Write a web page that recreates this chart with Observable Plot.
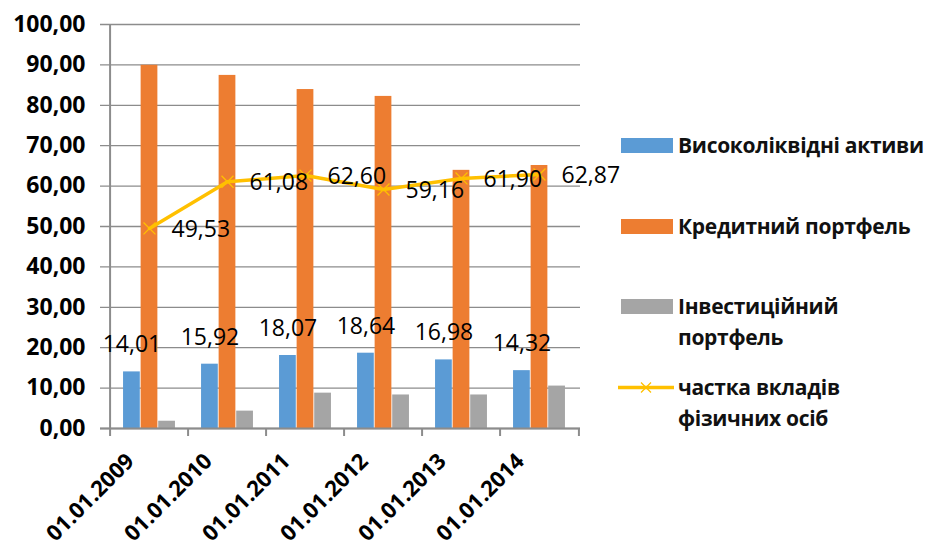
<!DOCTYPE html>
<html>
<head>
<meta charset="utf-8">
<script src="https://cdn.jsdelivr.net/npm/d3@7"></script>
<script src="https://cdn.jsdelivr.net/npm/@observablehq/plot@0.6"></script>
<style>
  html, body { margin: 0; padding: 0; background: #fff; }
  #chart { position: relative; width: 928px; height: 548px; font-family: "Open Sans", sans-serif; }
  #chart svg { position: absolute; left: 0; top: 0; }
  .legend { position: absolute; left: 0; top: 0; width: 928px; height: 548px; pointer-events: none; }
  .legend .item { position: absolute; left: 621px; display: flex; align-items: flex-start; }
  .legend .sw { width: 52px; height: 15px; flex: none; }
  .legend .label { position: absolute; left: 57px; white-space: nowrap; font-weight: 700; font-size: 21px; line-height: 31px; color: #111; letter-spacing: -0.3px; }
</style>
</head>
<body>
<div id="chart"></div>
<script>
// Dates of the balance sheet snapshots
const dates = ["01.01.2009", "01.01.2010", "01.01.2011", "01.01.2012", "01.01.2013", "01.01.2014"];
// Bar series, %
const liquidAssets = [14.01, 15.92, 18.07, 18.64, 16.98, 14.32];
const loanPortfolio = [89.9, 87.4, 83.9, 82.2, 63.9, 65.1];
const investmentPortfolio = [1.8, 4.3, 8.75, 8.3, 8.3, 10.5];
// Line series: share of household deposits, %
const householdShare = [49.53, 61.08, 62.60, 59.16, 61.90, 62.87];
// Y axis ticks
const yTicks = [0, 10, 20, 30, 40, 50, 60, 70, 80, 90, 100];

// Legend entries
const seriesNames = ["Високоліквідні активи", "Кредитний  портфель", "Інвестиційний портфель", "частка вкладів фізичних осіб"];
const colors = ["#5B9BD5", "#ED7D31", "#A5A5A5", "#FFC000"];

const fmt = v => v.toFixed(2).replace(".", ",");

const width = 928, height = 548;
const marginLeft = 107, marginRight = 348, marginTop = 24, marginBottom = 120;
const step = (width - marginLeft - marginRight) / dates.length;
const barW = step * 0.223;
const groupLeft = (step - 3 * barW) / 2;

const rows = dates.map((date, i) => ({
  date,
  liquid: liquidAssets[i],
  loan: loanPortfolio[i],
  invest: investmentPortfolio[i],
  share: householdShare[i]
}));

// Bar k of each date group occupies its own third of the group
const barInsets = k => ({
  insetLeft: groupLeft + k * barW,
  insetRight: step - groupLeft - (k + 1) * barW
});

const axisGray = "#8C8C8C";
const textFont = "Open Sans";

const plot = Plot.plot({
  width, height, marginLeft, marginRight, marginTop, marginBottom,
  x: { domain: dates, padding: 0, axis: null },
  y: { domain: [0, 100], axis: null },
  style: { fontFamily: textFont, color: "#000", background: "transparent", overflow: "visible" },
  marks: [
    // horizontal gridlines, sticking out to the left as tick marks
    Plot.ruleY(yTicks, { stroke: axisGray, strokeWidth: 1.3, insetLeft: -7 }),
    // y axis line
    Plot.ruleX([dates[0]], { dx: -step / 2, y1: 0, y2: 100, stroke: axisGray, strokeWidth: 2 }),
    // bars
    Plot.barY(rows, { x: "date", y: "liquid", fill: colors[0], ...barInsets(0) }),
    Plot.barY(rows, { x: "date", y: "loan", fill: colors[1], ...barInsets(1) }),
    Plot.barY(rows, { x: "date", y: "invest", fill: colors[2], ...barInsets(2) }),
    // x axis line and category boundary ticks
    Plot.ruleY([0], { stroke: axisGray, strokeWidth: 2.2, insetLeft: -7 }),
    Plot.ruleX(dates, { dx: -step / 2, y1: 0, y2: 0, insetBottom: -8, stroke: axisGray, strokeWidth: 2 }),
    Plot.ruleX([dates[dates.length - 1]], { dx: step / 2, y1: 0, y2: 0, insetBottom: -8, stroke: axisGray, strokeWidth: 2 }),
    // household deposit share line with cross markers
    Plot.line(rows, { x: "date", y: "share", stroke: colors[3], strokeWidth: 3.5 }),
    Plot.dot(rows, { x: "date", y: "share", symbol: "times", r: 5.5, stroke: colors[3], strokeWidth: 1.3 }),
    // value labels
    Plot.text(rows, { x: "date", y: "share", text: d => fmt(d.share), textAnchor: "start", dx: 22, dy: 1, fontSize: 23, fill: "#000" }),
    Plot.text(rows, { x: "date", y: "liquid", text: d => fmt(d.liquid), dx: groupLeft + barW / 2 - step / 2, dy: -27, fontSize: 23, fill: "#000" }),
    // y tick labels
    Plot.axisY({ ticks: yTicks, tickSize: 0, tickPadding: 22, tickFormat: fmt, fontSize: 23, fontWeight: "bold", fill: "#000", label: null }),
    // rotated date labels
    Plot.axisX({ tickSize: 0, tickRotate: -45, tickPadding: 29, dx: -19, fontSize: 22, fontWeight: "bold", fill: "#000", label: null })
  ]
});

const chart = document.getElementById("chart");
chart.appendChild(plot);

// Legend to the right of the plot
const legend = document.createElement("div");
legend.className = "legend";
const items = [
  { top: 138, kind: "bar", color: colors[0], lines: [seriesNames[0]], labelTop: -8 },
  { top: 219, kind: "bar", color: colors[1], lines: [seriesNames[1]], labelTop: -8 },
  { top: 299, kind: "bar", color: colors[2], lines: ["Інвестиційний", "портфель"], labelTop: -8 },
  { top: 380, kind: "line", color: colors[3], lines: ["частка вкладів", "фізичних осіб"], labelTop: -8 }
];
for (const it of items) {
  const el = document.createElement("div");
  el.className = "item";
  el.style.top = it.top + "px";
  if (it.kind === "bar") {
    const sw = document.createElement("div");
    sw.className = "sw";
    sw.style.background = it.color;
    el.appendChild(sw);
  } else {
    const ns = "http://www.w3.org/2000/svg";
    const svg = document.createElementNS(ns, "svg");
    svg.setAttribute("width", 56); svg.setAttribute("height", 15);
    svg.style.marginLeft = "-3px";
    const ln = document.createElementNS(ns, "line");
    ln.setAttribute("x1", 0); ln.setAttribute("x2", 56); ln.setAttribute("y1", 7.5); ln.setAttribute("y2", 7.5);
    ln.setAttribute("stroke", it.color); ln.setAttribute("stroke-width", 3.5);
    svg.appendChild(ln);
    const cross = document.createElementNS(ns, "path");
    cross.setAttribute("d", "M23,2.5L33,12.5M23,12.5L33,2.5");
    cross.setAttribute("stroke", it.color); cross.setAttribute("stroke-width", 1.3);
    svg.appendChild(cross);
    el.appendChild(svg);
  }
  const lab = document.createElement("div");
  lab.className = "label";
  lab.style.top = it.labelTop + "px";
  lab.innerHTML = it.lines.join("<br>");
  el.appendChild(lab);
  legend.appendChild(el);
}
chart.appendChild(legend);
</script>
</body>
</html>
